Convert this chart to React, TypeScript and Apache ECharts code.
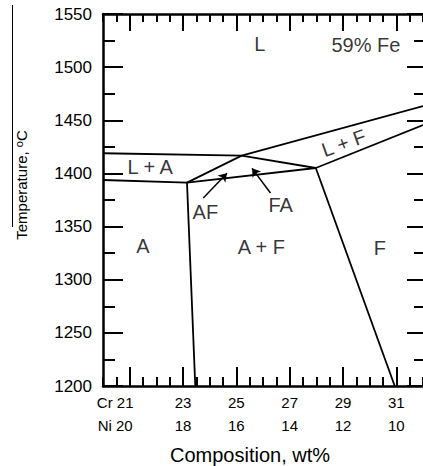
import React, { useEffect, useRef } from "react";
import * as echarts from "echarts";

// Composition ticks (wt%)
const crTicks = [21, 23, 25, 27, 29, 31];
const niTicks = [20, 18, 16, 14, 12, 10];

// Phase boundaries [Cr wt%, Temperature °C]
const liquidusA = [[20, 1419], [25.2, 1416.7]];
const liquidusF = [[25.2, 1416.7], [32, 1463.4]];
const junctionToPeritectic = [[25.2, 1416.7], [27.98, 1405.1]];
const solidusF = [[27.98, 1405.1], [32, 1445.6]];
const solidusA = [[20, 1393.8], [23.15, 1391.3]];
const afUpper = [[23.15, 1391.3], [25.2, 1416.7]];
const afLower = [[23.15, 1391.3], [27.98, 1405.1]];
const solvusA = [[23.15, 1391.3], [23.46, 1200]];
const solvusF = [[27.98, 1405.1], [30.94, 1200]];

// Arrows: [tail, head]
const arrowAF = [[23.76, 1376.9], [24.65, 1400.1]];
const arrowFA = [[26.28, 1381.6], [25.59, 1404.8]];

// Region labels
const regionNames = ["L", "59% Fe", "L + A", "AF", "FA", "A", "A + F", "F", "L + F"];
const regionX = [25.88, 29.86, 21.77, 23.84, 26.66, 21.5, 25.94, 30.38, 29.03];
const regionT = [1522, 1521, 1405.6, 1364, 1370, 1331.7, 1330.8, 1329.8, 1428.6];
const regionRotate = [0, 0, 0, 0, 0, 0, 0, 0, 20];

const FONT = "'Liberation Sans', Arial, Helvetica, sans-serif";

export default function App() {
  const ref = useRef<HTMLDivElement>(null);

  useEffect(() => {
    document.body.style.margin = "0";
    if (!ref.current) return;
    const chart = echarts.init(ref.current, undefined, { renderer: "svg" });

    const boundaries = [
      liquidusA,
      liquidusF,
      junctionToPeritectic,
      solidusF,
      solidusA,
      afUpper,
      afLower,
      solvusA,
      solvusF,
    ];

    const lineSeries = boundaries.map((d) => ({
      type: "line",
      data: d,
      symbol: "none",
      lineStyle: { color: "#000", width: 1.8 },
      silent: true,
      xAxisIndex: 0,
      yAxisIndex: 0,
    }));

    const baseX = {
      type: "value",
      min: 20,
      max: 32,
      splitLine: { show: false },
      axisLine: { show: false, onZero: false },
      axisLabel: { show: false },
    };
    const baseY = {
      type: "value",
      min: 1200,
      max: 1550,
      splitLine: { show: false },
      axisLine: { show: false, onZero: false },
      axisLabel: { show: false },
    };
    const frame = { show: true, onZero: false, lineStyle: { color: "#000", width: 2.5 } };

    chart.setOption({
      animation: false,
      grid: { left: 103, right: 0, top: 14, bottom: 80, containLabel: false, outerBoundsMode: "none" },
      xAxis: [
        {
          ...baseX,
          position: "bottom",
          interval: 0.5,
          axisLine: frame,
          axisTick: { inside: true, length: 9, lineStyle: { color: "#000", width: 2 } },
        },
        {
          ...baseX,
          position: "bottom",
          axisTick: {
            inside: true,
            length: 19,
            customValues: crTicks,
            lineStyle: { color: "#000", width: 2 },
          },
          axisLabel: {
            show: true,
            customValues: crTicks,
            color: "#000",
            fontFamily: FONT,
            fontSize: 15,
            lineHeight: 23,
            margin: 5,
            formatter: (v: number) => {
              const i = crTicks.indexOf(v);
              if (i < 0) return "";
              if (i === 0) return `{first|Cr ${crTicks[i]}}\n{first|Ni ${niTicks[i]}}`;
              return `${crTicks[i]}\n${niTicks[i]}`;
            },
            rich: {
              first: {
                fontFamily: FONT,
                fontSize: 15,
                lineHeight: 23,
                color: "#000",
                padding: [0, 29, 0, 0],
              },
            },
          },
        },
        {
          ...baseX,
          position: "top",
          interval: 0.5,
          axisLine: frame,
          axisTick: { inside: true, length: 8, lineStyle: { color: "#000", width: 2 } },
        },
        {
          ...baseX,
          position: "top",
          axisTick: {
            inside: true,
            length: 17,
            customValues: crTicks,
            lineStyle: { color: "#000", width: 2 },
          },
        },
      ],
      yAxis: [
        {
          ...baseY,
          position: "left",
          interval: 25,
          axisLine: frame,
          axisTick: { inside: true, length: 12, lineStyle: { color: "#000", width: 2 } },
        },
        {
          ...baseY,
          position: "left",
          interval: 50,
          axisTick: { inside: true, length: 20, lineStyle: { color: "#000", width: 2 } },
          axisLabel: {
            show: true,
            color: "#000",
            fontFamily: FONT,
            fontSize: 17,
            margin: 11,
            formatter: (v: number) => String(v),
          },
        },
        {
          ...baseY,
          position: "right",
          interval: 25,
          axisTick: { inside: true, length: 9, lineStyle: { color: "#000", width: 2 } },
        },
        {
          ...baseY,
          position: "right",
          interval: 50,
          axisTick: { inside: true, length: 16, lineStyle: { color: "#000", width: 2 } },
        },
      ],
      series: [
        ...lineSeries,
        {
          type: "lines",
          coordinateSystem: "cartesian2d",
          xAxisIndex: 0,
          yAxisIndex: 0,
          symbol: ["none", "arrow"],
          symbolSize: 8,
          silent: true,
          lineStyle: { color: "#000", width: 1.5, opacity: 1 },
          data: [{ coords: arrowAF }, { coords: arrowFA }],
        },
        {
          type: "scatter",
          xAxisIndex: 0,
          yAxisIndex: 0,
          symbolSize: 0,
          silent: true,
          data: regionNames.map((n, i) => ({
            name: n,
            value: [regionX[i], regionT[i]],
            label: { rotate: regionRotate[i] },
          })),
          label: {
            show: true,
            position: "inside",
            formatter: "{b}",
            color: "#000",
            fontFamily: FONT,
            fontSize: 20,
          },
        },
      ],
      graphic: [
        {
          type: "line",
          shape: { x1: 12.5, y1: 5, x2: 12.5, y2: 227 },
          style: { stroke: "#000", lineWidth: 1 },
          silent: true,
        },
        {
          type: "text",
          x: 21,
          y: 185,
          rotation: Math.PI / 2,
          silent: true,
          style: {
            text: "Temperature, {sup|o}C",
            fontFamily: FONT,
            fontSize: 15,
            fill: "#000",
            textAlign: "center",
            textVerticalAlign: "middle",
            rich: {
              sup: { fontFamily: FONT, fontSize: 11, verticalAlign: "top", fill: "#000" },
            },
          },
        },
        {
          type: "text",
          x: 250,
          y: 455,
          silent: true,
          style: {
            text: "Composition, wt%",
            fontFamily: FONT,
            fontSize: 20,
            fill: "#000",
            textAlign: "center",
            textVerticalAlign: "middle",
          },
        },
      ],
    });

    return () => chart.dispose();
  }, []);

  return <div ref={ref} style={{ width: 423, height: 466 }} />;
}
